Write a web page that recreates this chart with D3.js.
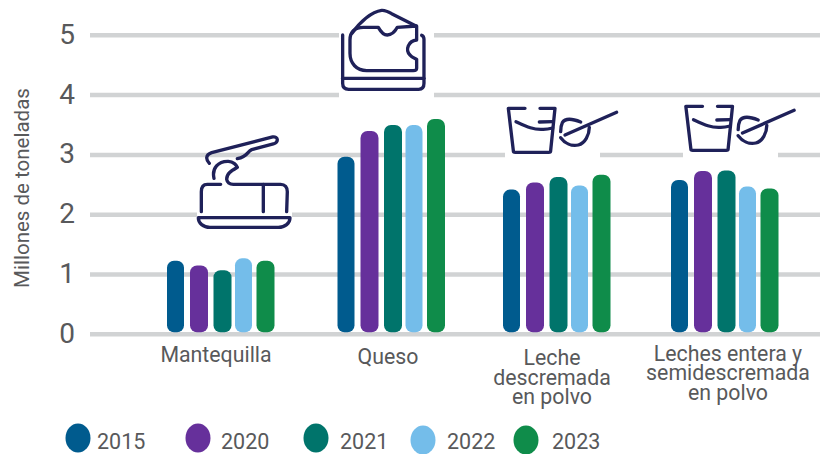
<!DOCTYPE html>
<html>
<head>
<meta charset="utf-8">
<script src="https://cdn.jsdelivr.net/npm/d3@7"></script>
<style>
  html, body { margin: 0; padding: 0; background: #fff; }
  svg { display: block; font-family: Roboto, sans-serif; }
  .icon path { fill: none; stroke: #1f2159; stroke-width: 10; stroke-linecap: round; stroke-linejoin: round; }
</style>
</head>
<body>
<div id="chart"></div>
<script>
const categories = ["Mantequilla", "Queso", "Leche descremada en polvo", "Leches entera y semidescremada en polvo"]
const years = ["2015", "2020", "2021", "2022", "2023"]
const colors = ["#005b8e", "#66309b", "#00746b", "#74bdea", "#0f8c4a"]

const v2015 = [1.23, 2.97, 2.42, 2.58]
const v2020 = [1.15, 3.40, 2.54, 2.73]
const v2021 = [1.07, 3.50, 2.63, 2.74]
const v2022 = [1.27, 3.50, 2.49, 2.47]
const v2023 = [1.23, 3.60, 2.67, 2.44]
const seriesValues = [v2015, v2020, v2021, v2022, v2023]

const yTicks = [0, 1, 2, 3, 4, 5]

const categoryLines = [["Mantequilla"], ["Queso"], ["Leche", "descremada", "en polvo"], ["Leches entera y", "semidescremada", "en polvo"]]

const width = 827, height = 454
const svg = d3.select("#chart").append("svg").attr("width", width).attr("height", height)

const y = d3.scaleLinear().domain([0, 5]).range([334.3, 35.3])
const xCenter = d3.scaleOrdinal().domain(categories).range([220.5, 391, 556.5, 724.5])
const xOffset = d3.scaleOrdinal().domain(years).range([-45, -21.5, 2, 23, 45])
const color = d3.scaleOrdinal().domain(years).range(colors)
const barWidth = d3.scaleOrdinal().domain(years).range([17, 18, 18, 17, 18])

// grid + tick labels
const axis = svg.append("g")
    .attr("transform", "translate(90,0)")
    .call(d3.axisLeft(y).tickValues(yTicks).tickFormat(d3.format("d")).tickSize(-730).tickPadding(15).offset(0))
axis.select(".domain").remove()
axis.selectAll("line").attr("stroke", "#d1d3d4").attr("stroke-width", 4.5)
axis.selectAll("text")
    .attr("fill", "#58595b")
    .attr("dy", "0.3em")
    .style("font-family", "Roboto, sans-serif")
    .style("font-size", "28px")
    .style("font-weight", 400)

// white gaps behind the icons
const gaps = [[339, 0, 95, 102], [197, 205, 95, 20], [505, 146, 95, 17], [683, 146, 95, 17]]
svg.selectAll("rect.gap").data(gaps).enter().append("rect")
    .attr("class", "gap")
    .attr("x", d => d[0]).attr("y", d => d[1]).attr("width", d => d[2]).attr("height", d => d[3])
    .attr("fill", "#fff")

// bars
years.forEach((yr, i) => {
    svg.selectAll("rect.bar" + yr)
        .data(seriesValues[i])
        .enter().append("rect")
        .attr("class", "bar" + yr)
        .attr("x", (d, j) => xCenter(categories[j]) + xOffset(yr) - barWidth(yr) / 2)
        .attr("y", d => y(d))
        .attr("width", barWidth(yr))
        .attr("height", d => y(0) - 2 - y(d))
        .attr("rx", 7)
        .attr("fill", color(yr))
})

// category labels
const labelTop = [355.5, 358, 359, 354.5]
svg.selectAll("text.cat")
    .data(categoryLines)
    .enter().append("text")
    .attr("class", "cat")
    .attr("text-anchor", "middle")
    .attr("fill", "#58595b")
    .style("font-size", "21.3px")
    .style("font-weight", 400)
    .each(function (lines, j) {
        const cx = [216, 388, 552, 728][j]
        d3.select(this).selectAll("tspan").data(lines).enter().append("tspan")
            .attr("x", cx)
            .attr("y", (l, k) => labelTop[j] + 6 + k * 19.5)
            .text(l => l)
    })

// y title
svg.append("text")
    .attr("transform", "translate(29,188) rotate(-90)")
    .attr("text-anchor", "middle")
    .attr("fill", "#58595b")
    .style("font-size", "20.5px")
    .style("font-weight", 400)
    .text("Millones de toneladas")

// legend
const legendX = d3.scaleOrdinal().domain(years).range([78, 198, 316, 423, 526])
const legendY = d3.scaleOrdinal().domain(years).range([438, 438, 438, 440, 440])
const legendTextX = d3.scaleOrdinal().domain(years).range([97, 221, 340, 447, 552])
const legend = svg.selectAll("g.legend").data(years).enter().append("g").attr("class", "legend")
legend.append("ellipse")
    .attr("cx", d => legendX(d)).attr("cy", d => legendY(d))
    .attr("rx", 12.5).attr("ry", 14.5)
    .attr("fill", d => color(d))
legend.append("text")
    .attr("x", d => legendTextX(d)).attr("y", 449)
    .attr("fill", "#58595b")
    .style("font-size", "21.5px")
    .style("font-weight", 400)
    .text(d => d)

// icons, traced at 3x
const butter = svg.append("g").attr("class", "icon").attr("transform", "translate(150,0) scale(0.3333)")
butter.append("path").attr("d", "M178,490 C168,480 165,465 185,458 L368,411 C384,408 388,426 370,432 L305,449 C290,455 295,470 262,476")
butter.append("path").attr("d", "M192,535 C185,505 205,483 235,484 C250,485 260,495 262,502 C245,512 230,520 230,538 C232,550 240,553 250,553 L392,553 C405,553 412,562 412,575 L410,635")
butter.append("path").attr("d", "M212,553 L172,553 C160,553 154,562 154,575 L154,635")
butter.append("path").attr("d", "M340,553 L340,635")
butter.append("path").attr("d", "M145,653 L420,653 C420,670 405,682 385,682 L180,682 C160,682 145,670 145,653 Z")

const cheese = svg.append("g").attr("class", "icon").attr("transform", "translate(150,0) scale(0.3333)")
cheese.append("path").attr("d", "M606,100 C630,65 665,35 695,31 C705,30 715,35 725,41 L798,78")
cheese.append("path").attr("d", "M800,78 L800,120 C775,122 765,150 780,165 C785,172 795,175 800,178 L800,205 C800,212 795,212 790,212 L650,212 C620,212 600,190 600,160 L600,120 C600,95 615,82 640,82 L685,82 C695,100 705,105 712,105 C725,105 735,95 742,82 L800,78")
cheese.append("path").attr("d", "M578,105 L578,250 C578,262 584,268 596,268 L806,268 C816,268 822,262 822,250 L822,118 C822,112 820,108 815,106")
cheese.append("path").attr("d", "M578,235 L822,235")

function cup(dx, dy) {
    const g = svg.append("g").attr("class", "icon").attr("transform", `translate(${490 + dx},${90 + dy}) scale(0.3333)`)
    g.append("path").attr("d", "M105,55 L55,55 L70,182 Q70,187 76,187 L176,187 Q182,187 182,182 L195,55 L150,55")
    g.append("path").attr("d", "M78,95 C110,110 130,120 160,118 C170,118 180,116 188,114")
    g.append("path").attr("d", "M148,96 L188,95")
    g.append("path").attr("d", "M272,96 C245,85 225,85 217,98 C212,108 212,118 212,125")
    g.append("path").attr("d", "M212,143 C225,160 245,170 265,165 C285,160 298,135 298,112")
    g.append("path").attr("d", "M225,135 L380,67")
}
cup(0, 0)
cup(177.5, -2)
</script>
</body>
</html>
